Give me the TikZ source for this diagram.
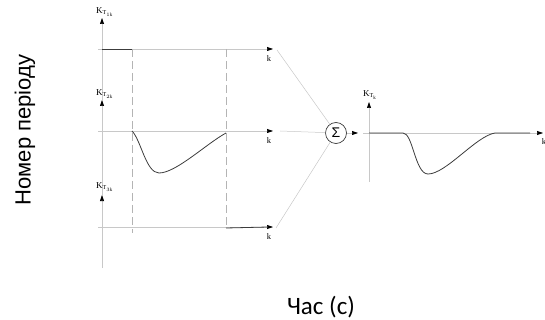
\documentclass[tikz,border=0pt]{standalone}
\usepackage{fontspec}
\setmainfont{Liberation Serif}
\newfontfamily\axisfont{Liberation Sans}
\newfontfamily\timefont{Carlito}
\usepackage{tikz}
\usetikzlibrary{arrows.meta,positioning}
\definecolor{AxisGrey}{HTML}{C8C8C8}
\definecolor{DashGrey}{HTML}{B4B4B4}
\definecolor{CurveGrey}{HTML}{3C3C3C}

\begin{document}
\begin{tikzpicture}[x=1pt, y=-1pt, every node/.style={inner sep=0pt}, axis/.style={line width=0.6pt, color=AxisGrey, -{Triangle[length=6pt, width=4pt, color=black]}}, guide/.style={line width=0.6pt, color=DashGrey, dash pattern=on 8pt off 4pt}, curve/.style={line width=0.8pt, color=CurveGrey}, feed/.style={line width=0.5pt, color=AxisGrey}, klabel/.style={font=\fontsize{9}{10}\selectfont, anchor=west}, kname/.style={font=\fontsize{8.5}{9}\selectfont}, sumnode/.style={circle, draw=CurveGrey, line width=0.7pt, minimum size=21pt, font=\axisfont\fontsize{14}{15}\selectfont}]
\useasboundingbox (0,0) rectangle (545,320);
% axes of the three periods
\coordinate (v0) at (102,268); \coordinate (v3) at (102,195); \coordinate (v2) at (102,100); \coordinate (v1) at (102,18);
\coordinate (h1s) at (98,49); \coordinate (h1e) at (273,49);
\coordinate (h2s) at (98,131); \coordinate (h2e) at (273,131);
\coordinate (h3s) at (98,227); \coordinate (h3e) at (273,227);
\draw[axis] (v0)--(v3); \draw[axis] (v3)--(v2); \draw[axis] (v2)--(v1);
\draw[axis] (h1s)--(h1e); \draw[axis] (h2s)--(h2e); \draw[axis] (h3s)--(h3e);
\node[klabel] (kt1) at (96,12) {$\mathrm{K}_{\mathrm{T}_{1\mathrm{k}}}$};
\node[klabel] (kt2) at (96,94) {$\mathrm{K}_{\mathrm{T}_{2\mathrm{k}}}$};
\node[klabel] (kt3) at (96,187) {$\mathrm{K}_{\mathrm{T}_{3\mathrm{k}}}$};
\node[kname] (k1) at (269,59) {k};
\node[kname] (k2) at (269,141) {k};
\node[kname] (k3) at (269,237) {k};
% dashed period borders
\coordinate (d1t) at (132,49); \coordinate (d1b) at (132,233);
\coordinate (d2t) at (226,49); \coordinate (d2b) at (226,228);
\draw[guide] (d1t)--(d1b); \draw[guide] (d2t)--(d2b);
% pieces of the signal
\draw[curve] (102,49)--(d1t);
\draw[curve] (132,131) .. controls (141,140) and (146,173) .. (159,173) .. controls (176,173) and (206,144) .. (226,133);
\draw[curve] (d2b)--(268,227);
% summation
\node[sumnode] (sum) at (336,133) {Σ};
\coordinate (in1) at (277,50); \coordinate (in2) at (280,131); \coordinate (in3) at (276,228);
\draw[feed] (in1)--(sum); \draw[feed] (in2)--(sum); \draw[feed] (in3)--(sum);
\coordinate (out) at (358,133);
\draw[axis] (sum)--(out);
% resulting signal
\coordinate (rv0) at (369,182); \coordinate (rv1) at (369,102);
\coordinate (rh0) at (363,133); \coordinate (rh1) at (543,133);
\draw[axis] (rv0)--(rv1); \draw[axis] (rh0)--(rh1);
\node[klabel] (kt) at (363,95) {$\mathrm{K}_{\mathrm{T}_{\mathrm{k}}}$};
\node[kname] (kr) at (544,142) {k};
\draw[curve] (369,133)--(403,133) .. controls (413,133) and (415,174) .. (428,174) .. controls (446,174) and (476,136) .. (495,133)--(530,133);
% axis titles
\node[font=\axisfont\fontsize{22}{24}\selectfont, rotate=90] (ytitle) at (25,130) {Номер періоду};
\node[font=\timefont\fontsize{25}{28}\selectfont] (xtitle) at (321,307) {Час (с)};
\end{tikzpicture}
\end{document}
